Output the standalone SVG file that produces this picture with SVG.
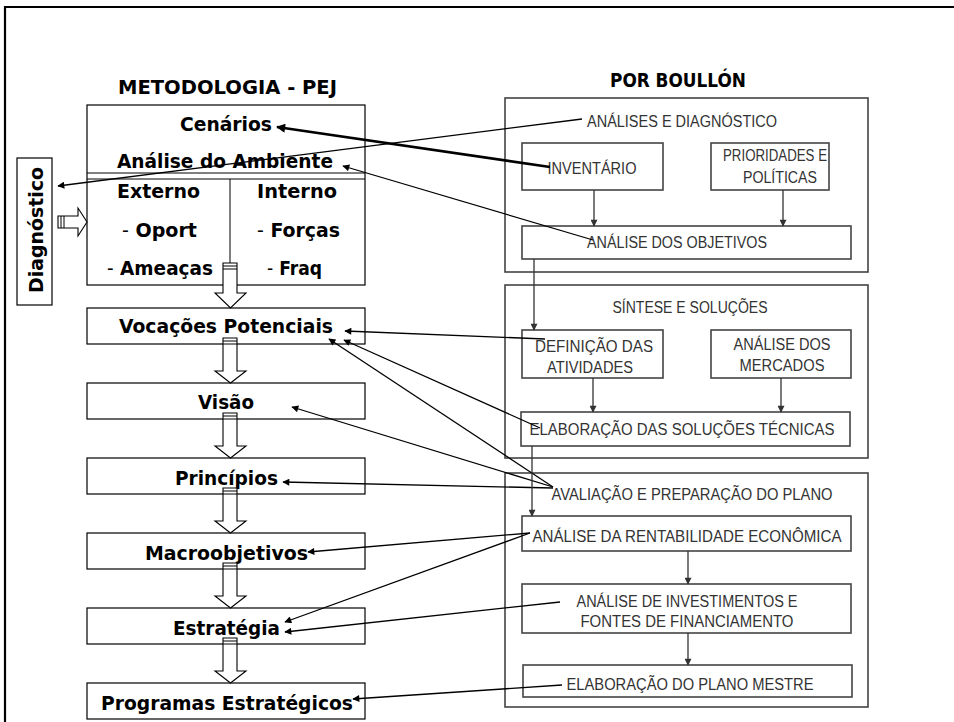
<svg xmlns="http://www.w3.org/2000/svg" width="954" height="722" viewBox="0 0 954 722">
<defs>
<style>
.l{font-family:"DejaVu Sans",Verdana,sans-serif;font-weight:bold;font-size:18.7px;fill:#000}
.r{font-family:"Liberation Sans",Arial,sans-serif;font-size:16px;fill:#333;text-anchor:middle}
.bx{fill:#fff;stroke:#000;stroke-width:1.2}
.gb{fill:none;stroke:#444;stroke-width:1.6}
.gi{fill:#fff;stroke:#444;stroke-width:1.6}
.c{fill:none;stroke:#000;stroke-width:1.3}
.ck{fill:none;stroke:#000;stroke-width:2.6}
.g{fill:none;stroke:#333;stroke-width:1.3}
.ha{fill:#fff;stroke:#000;stroke-width:1.1}
.st{stroke:#000;stroke-width:1}
</style>
<marker id="ah" viewBox="0 0 10 10" refX="9" refY="5" markerWidth="9" markerHeight="7" markerUnits="userSpaceOnUse" orient="auto"><path d="M0,0 L10,5 L0,10 z" fill="#000"/></marker>
<marker id="ahk" viewBox="0 0 10 10" refX="9" refY="5" markerWidth="11" markerHeight="9" markerUnits="userSpaceOnUse" orient="auto"><path d="M0,0 L10,5 L0,10 z" fill="#000"/></marker>
<marker id="ag" viewBox="0 0 10 10" refX="9" refY="5" markerWidth="8" markerHeight="7" markerUnits="userSpaceOnUse" orient="auto"><path d="M0,0 L10,5 L0,10 z" fill="#333"/></marker>
</defs>
<rect width="954" height="722" fill="#fff"/>
<path d="M5,722 V7 H954" fill="none" stroke="#000" stroke-width="2.2"/>

<text class="l" x="118" y="94" textLength="219" lengthAdjust="spacingAndGlyphs">METODOLOGIA - PEJ</text>
<text class="l" x="610" y="87" textLength="136" lengthAdjust="spacingAndGlyphs">POR BOULLÓN</text>

<g id="diagnostico">
<rect class="bx" x="17" y="158" width="35" height="147"/>
<text class="l" transform="translate(43,230) rotate(-90)" text-anchor="middle" textLength="126" lengthAdjust="spacingAndGlyphs">Diagnóstico</text>
</g>

<g id="ambiente">
<rect class="bx" x="87" y="105" width="278" height="180"/>
<line class="st" x1="87" y1="173" x2="365" y2="173"/>
<line class="st" x1="87" y1="179" x2="365" y2="179"/>
<line class="st" x1="230" y1="179" x2="230" y2="263"/>
<text class="l" x="180" y="131" textLength="92" lengthAdjust="spacingAndGlyphs">Cenários</text>
<text class="l" x="117" y="168" textLength="216" lengthAdjust="spacingAndGlyphs">Análise do Ambiente</text>
<text class="l" x="117" y="198" textLength="83" lengthAdjust="spacingAndGlyphs">Externo</text>
<text class="l" x="257" y="198" textLength="80" lengthAdjust="spacingAndGlyphs">Interno</text>
<text class="l" x="122" y="237" textLength="75" lengthAdjust="spacingAndGlyphs"><tspan font-weight="normal">-</tspan> Oport</text>
<text class="l" x="257" y="237" textLength="83" lengthAdjust="spacingAndGlyphs"><tspan font-weight="normal">-</tspan> Forças</text>
<text class="l" x="107" y="275" textLength="106" lengthAdjust="spacingAndGlyphs"><tspan font-weight="normal">-</tspan> Ameaças</text>
<text class="l" x="267" y="275" textLength="55" lengthAdjust="spacingAndGlyphs"><tspan font-weight="normal">-</tspan> Fraq</text>
</g>

<g id="vocacoes"><rect class="bx" x="87" y="308" width="278" height="36"/><text class="l" x="119" y="333" textLength="214" lengthAdjust="spacingAndGlyphs">Vocações Potenciais</text></g>
<g id="visao"><rect class="bx" x="87" y="383" width="278" height="36"/><text class="l" x="198" y="409" textLength="56" lengthAdjust="spacingAndGlyphs">Visão</text></g>
<g id="principios"><rect class="bx" x="87" y="458" width="278" height="36"/><text class="l" x="175" y="485" textLength="103" lengthAdjust="spacingAndGlyphs">Princípios</text></g>
<g id="macroobjetivos"><rect class="bx" x="87" y="533" width="278" height="36"/><text class="l" x="145" y="560" textLength="163" lengthAdjust="spacingAndGlyphs">Macroobjetivos</text></g>
<g id="estrategia"><rect class="bx" x="87" y="608" width="278" height="36"/><text class="l" x="173" y="635" textLength="107" lengthAdjust="spacingAndGlyphs">Estratégia</text></g>
<g id="programas"><rect class="bx" x="87" y="683" width="278" height="36"/><text class="l" x="101" y="710" textLength="252" lengthAdjust="spacingAndGlyphs">Programas Estratégicos</text></g>

<g id="analises-diagnostico">
<rect class="gb" x="505" y="98" width="363" height="174"/>
<text class="r" x="682" y="127" textLength="190" lengthAdjust="spacingAndGlyphs">ANÁLISES E DIAGNÓSTICO</text>
</g>
<g id="inventario"><rect class="gi" x="522" y="143" width="141" height="47"/><text class="r" x="592" y="174" textLength="89" lengthAdjust="spacingAndGlyphs">INVENTÁRIO</text></g>
<g id="prioridades"><rect class="gi" x="711" y="143" width="118" height="47"/><text class="r" x="775" y="161" textLength="104" lengthAdjust="spacingAndGlyphs">PRIORIDADES E</text><text class="r" x="780" y="183" textLength="74" lengthAdjust="spacingAndGlyphs">POLÍTICAS</text></g>
<g id="objetivos"><rect class="gi" x="522" y="226" width="329" height="33"/><text class="r" x="677" y="248" textLength="180" lengthAdjust="spacingAndGlyphs">ANÁLISE DOS OBJETIVOS</text></g>

<g id="sintese">
<rect class="gb" x="505" y="285" width="363" height="173"/>
<text class="r" x="690" y="313" textLength="155" lengthAdjust="spacingAndGlyphs">SÍNTESE E SOLUÇÕES</text>
</g>
<g id="definicao"><rect class="gi" x="522" y="330" width="141" height="48"/><text class="r" x="594" y="352" textLength="118" lengthAdjust="spacingAndGlyphs">DEFINIÇÃO DAS</text><text class="r" x="590" y="373" textLength="86" lengthAdjust="spacingAndGlyphs">ATIVIDADES</text></g>
<g id="mercados"><rect class="gi" x="711" y="330" width="140" height="48"/><text class="r" x="782" y="350" textLength="97" lengthAdjust="spacingAndGlyphs">ANÁLISE DOS</text><text class="r" x="782" y="371" textLength="85" lengthAdjust="spacingAndGlyphs">MERCADOS</text></g>
<g id="solucoes"><rect class="gi" x="521" y="412" width="329" height="34"/><text class="r" x="682" y="435" textLength="305" lengthAdjust="spacingAndGlyphs">ELABORAÇÃO DAS SOLUÇÕES TÉCNICAS</text></g>

<g id="avaliacao">
<rect class="gb" x="505" y="473" width="363" height="234"/>
<text class="r" x="692" y="500" textLength="281" lengthAdjust="spacingAndGlyphs">AVALIAÇÃO E PREPARAÇÃO DO PLANO</text>
</g>
<g id="rentabilidade"><rect class="gi" x="522" y="516" width="329" height="35"/><text class="r" x="687" y="542" textLength="309" lengthAdjust="spacingAndGlyphs">ANÁLISE DA RENTABILIDADE ECONÔMICA</text></g>
<g id="investimentos"><rect class="gi" x="522" y="584" width="329" height="49"/><text class="r" x="687" y="607" textLength="221" lengthAdjust="spacingAndGlyphs">ANÁLISE DE INVESTIMENTOS E</text><text class="r" x="687" y="627" textLength="213" lengthAdjust="spacingAndGlyphs">FONTES DE FINANCIAMENTO</text></g>
<g id="plano-mestre"><rect class="gi" x="523" y="665" width="329" height="32"/><text class="r" x="690" y="690" textLength="247" lengthAdjust="spacingAndGlyphs">ELABORAÇÃO DO PLANO MESTRE</text></g>

<g id="connectors">
<!-- hollow block arrows, left column -->
<path class="ha" d="M223,263 H237 V293 H246 L230.5,308 L215,293 H223 Z"/>
<path class="st" d="M223,266 H237 M223,269 H237"/>
<path class="ha" d="M223,338 H237 V371 H246 L230.5,383 L215,371 H223 Z"/>
<path class="st" d="M223,341 H237 M223,344 H237"/>
<path class="ha" d="M223,413 H237 V446 H246 L230.5,458 L215,446 H223 Z"/>
<path class="st" d="M223,416 H237 M223,419 H237"/>
<path class="ha" d="M223,488 H237 V521 H246 L230.5,533 L215,521 H223 Z"/>
<path class="st" d="M223,491 H237 M223,494 H237"/>
<path class="ha" d="M223,563 H237 V596 H246 L230.5,608 L215,596 H223 Z"/>
<path class="st" d="M223,566 H237 M223,569 H237"/>
<path class="ha" d="M223,638 H237 V671 H246 L230.5,683 L215,671 H223 Z"/>
<path class="st" d="M223,641 H237 M223,644 H237"/>
<!-- diagnostico block arrow -->
<path class="ha" d="M58,216 H78 V208 L87,222 L78,236 V228 H58 Z"/>
<path class="st" d="M61,216 V228 M64,216 V228"/>

<!-- links from Boullón to PEJ -->
<line class="c" x1="582" y1="119" x2="58" y2="186" marker-end="url(#ah)"/>
<line class="ck" x1="550" y1="167" x2="277" y2="127" marker-end="url(#ahk)"/>
<line class="c" x1="593" y1="240" x2="343" y2="166" marker-end="url(#ah)"/>
<line class="c" x1="545" y1="339" x2="345" y2="331" marker-end="url(#ah)"/>
<line class="c" x1="540" y1="428" x2="344" y2="340" marker-end="url(#ah)"/>
<line class="c" x1="553" y1="487" x2="329" y2="339" marker-end="url(#ah)"/>
<line class="c" x1="553" y1="487" x2="292" y2="407" marker-end="url(#ah)"/>
<line class="c" x1="553" y1="488" x2="283" y2="482" marker-end="url(#ah)"/>
<line class="c" x1="530" y1="533" x2="308" y2="552" marker-end="url(#ah)"/>
<line class="c" x1="530" y1="533" x2="285" y2="622" marker-end="url(#ah)"/>
<line class="c" x1="560" y1="602" x2="285" y2="632" marker-end="url(#ah)"/>
<line class="c" x1="562" y1="685" x2="353" y2="699" marker-end="url(#ah)"/>

<!-- internal Boullón flow -->
<line class="g" x1="594" y1="190" x2="594" y2="226" marker-end="url(#ag)"/>
<line class="g" x1="783" y1="190" x2="783" y2="226" marker-end="url(#ag)"/>
<line class="g" x1="534" y1="259" x2="534" y2="330" marker-end="url(#ag)"/>
<line class="g" x1="593" y1="378" x2="593" y2="412" marker-end="url(#ag)"/>
<line class="g" x1="781" y1="378" x2="781" y2="412" marker-end="url(#ag)"/>
<line class="g" x1="532" y1="446" x2="532" y2="516" marker-end="url(#ag)"/>
<line class="g" x1="688" y1="551" x2="688" y2="584" marker-end="url(#ag)"/>
<line class="g" x1="688" y1="633" x2="688" y2="665" marker-end="url(#ag)"/>
</g>
</svg>
